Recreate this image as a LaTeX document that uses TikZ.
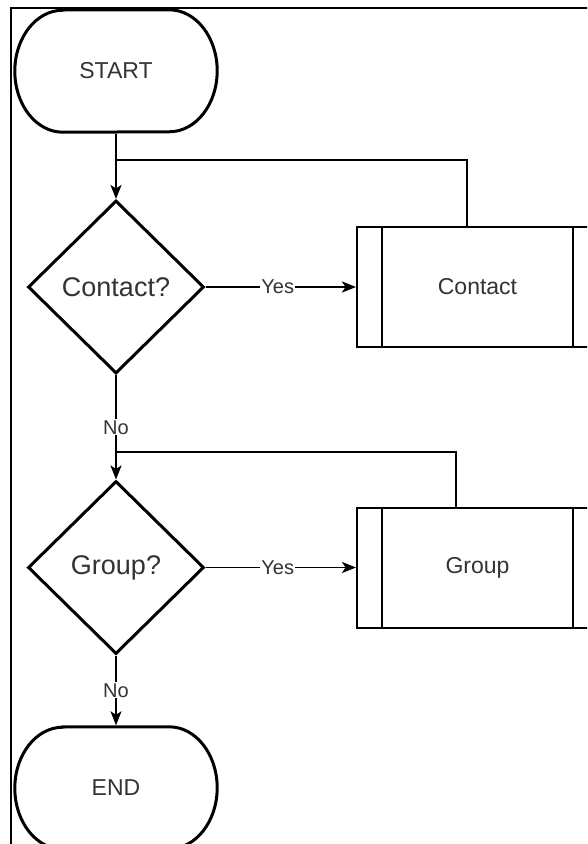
\documentclass[tikz,border=0pt]{standalone}
\usepackage{fontspec}
\setmainfont{Liberation Sans}
\usetikzlibrary{arrows.meta,shapes.geometric}
\definecolor{txtgray}{HTML}{333333}

\begin{document}
\begin{tikzpicture}[
            x=1pt, y=-1pt,
            >={Stealth[length=14pt,width=11pt,inset=3.5pt]},
            every node/.style={text=txtgray},
            terminal/.style={minimum width=202pt, minimum height=122pt,
                font=\fontsize{23}{27}\selectfont,
                append after command={\pgfextra{\draw[line width=3pt]
                    ([xshift=48pt]\tikzlastnode.north west) -- ([xshift=-48pt]\tikzlastnode.north east)
                    arc[start angle=90, end angle=-90, x radius=48pt, y radius=61pt]
                    -- ([xshift=48pt]\tikzlastnode.south west)
                    arc[start angle=270, end angle=90, x radius=48pt, y radius=61pt] -- cycle;}}},
            decision/.style={draw, diamond, aspect=1, inner sep=0pt, line width=3pt,
                minimum width=176pt, minimum height=173pt, font=\fontsize{27}{31}\selectfont},
            predef/.style={draw, line width=2pt, minimum width=241pt, minimum height=120pt,
                font=\fontsize{23}{27}\selectfont,
                path picture={\draw[line width=2pt]
                    ([xshift=25pt]path picture bounding box.north west) -- ([xshift=25pt]path picture bounding box.south west)
                    ([xshift=-25pt]path picture bounding box.north east) -- ([xshift=-25pt]path picture bounding box.south east);}},
            link/.style={draw, line width=1.8pt},
            flow/.style={link, ->},
            answer/.style={fill=white, inner sep=1pt, font=\fontsize{20}{22}\selectfont}
        ]
        \useasboundingbox (0,0) rectangle (587,844);
        \clip (0,0) rectangle (587,844);
        \draw[line width=2pt] (11,860) -- (11,8) -- (600,8);

        \node[terminal] (start) at (116,71) {START};
        \node[decision] (dec1) at (116,287) {Contact?};
        \node[predef] (proc1) at (477.5,287) {Contact};
        \node[decision] (dec2) at (116,567.5) {Group?};
        \node[predef] (proc2) at (477.5,567.5) {Group};
        \node[terminal] (stop) at (116,788) {END};

        \coordinate (j1) at (116,160);
        \coordinate (j2) at (116,452);

        \draw[flow] ([yshift=-1.5pt]start.south) -- (dec1);
        \draw[link] ([xshift=-10.5pt]proc1.north) |- (j1);
        \draw[flow] (dec1.east) -- node[answer, pos=0.48] {Yes} (proc1.west);
        \draw[flow] (dec1) -- node[answer] {No} (dec2);
        \draw[link] ([xshift=-21.5pt]proc2.north) |- (j2);
        \draw[flow] (dec2.east) -- node[answer, pos=0.48] {Yes} (proc2.west);
        \draw[flow] (dec2) -- node[answer] {No} ([yshift=1.5pt]stop.north);
\end{tikzpicture}
\end{document}
